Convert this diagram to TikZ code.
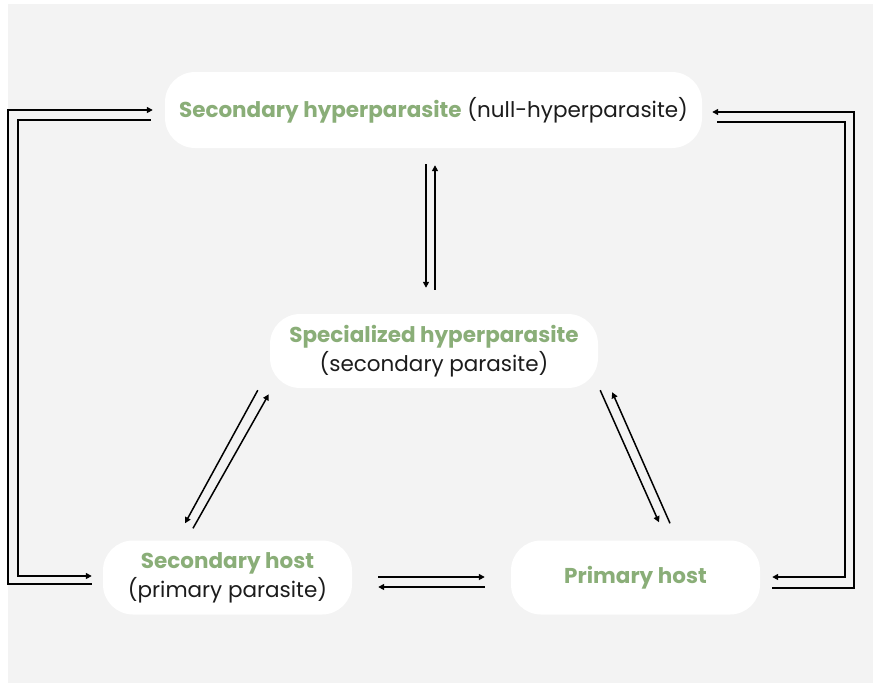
\documentclass[tikz,border=0pt]{standalone}
\usepackage{fontspec}
\setmainfont{Poppins}
\usetikzlibrary{calc,arrows.meta}
\definecolor{bgc}{HTML}{F3F3F3}
\definecolor{grn}{HTML}{8AAE78}
\definecolor{ink}{HTML}{1C1C1C}
\tikzset{
  box/.style={fill=white,rounded corners=30pt,align=center,inner sep=0pt,
    font=\fontsize{21.5}{29}\selectfont,text=ink},
  arr/.style={line width=1.5pt,-{Triangle[length=6pt,width=6pt]}}
}
\newcommand{\hlt}[1]{\textcolor{grn}{\bfseries #1}}
\begin{document}
\begin{tikzpicture}[x=1pt,y=-1pt]
\useasboundingbox (0,0) rectangle (873,683);
\fill[bgc] (8,4) rectangle (873,683);
\node[box,minimum width=537pt,minimum height=76pt] (top) at (433.5,110) {\hlt{Secondary hyperparasite} (null-hyperparasite)};
\node[box,minimum width=328pt,minimum height=74pt] (mid) at (434,351) {\hlt{Specialized hyperparasite}\\(secondary parasite)};
\node[box,minimum width=249pt,minimum height=74pt] (sh) at (227.5,577.5) {\hlt{Secondary host}\\(primary parasite)};
\node[box,minimum width=249pt,minimum height=74pt] (ph) at (635.5,577.5) {\hlt{Primary host}};
% left loop
\draw[arr] ($(sh.west)+(-11,6.5)$) -- ++(-84,0) |- ($(top.west)+(-12,0)$);
\draw[arr] ($(top.west)+(-14,10)$) -- ++(-133,0) |- ($(sh.west)+(-11,-1.5)$);
% right loop
\draw[arr] ($(ph.east)+(12,10.5)$) -- ++(82,0) |- ($(top.east)+(10,2)$);
\draw[arr] ($(top.east)+(15,12)$) -- ++(128,0) |- ($(ph.east)+(12,-0.5)$);
% vertical
\draw[arr] ($(top.south)+(-7.5,16)$) -- ($(mid.north)+(-8,-26)$);
\draw[arr] ($(mid.north)+(1,-24)$) -- ($(top.south)+(1.5,17)$);
% left diagonal
\draw[arr] ($(mid.south west)+(-12,2)$) -- ($(sh.north)+(-42.5,-17)$);
\draw[arr] ($(sh.north)+(-34.5,-12)$) -- ($(mid.south west)+(-1,6)$);
% right diagonal
\draw[arr] ($(mid.south east)+(2,2)$) -- ($(ph.north)+(23.5,-18)$);
\draw[arr] ($(ph.north)+(34.5,-17)$) -- ($(mid.south east)+(14,4)$);
% bottom
\draw[arr] ($(sh.east)+(26,-0.5)$) -- ($(ph.west)+(-26,-0.5)$);
\draw[arr] ($(ph.west)+(-26,9.5)$) -- ($(sh.east)+(26,9.5)$);
\end{tikzpicture}
\end{document}
